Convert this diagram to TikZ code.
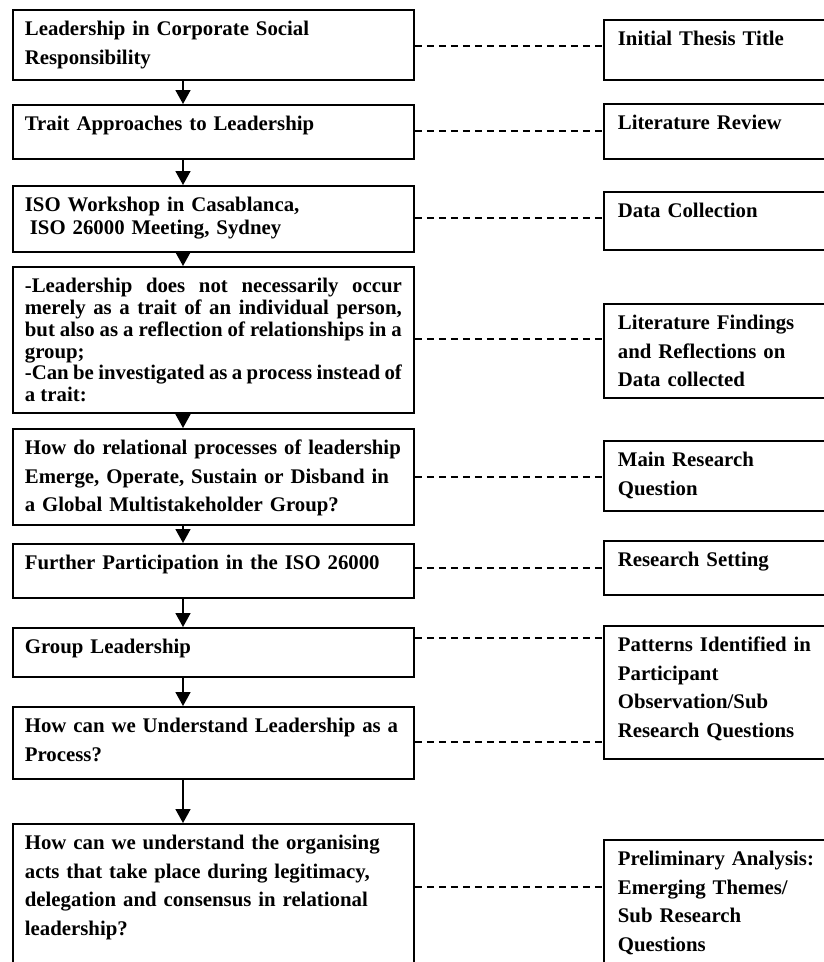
\documentclass[tikz,border=0pt]{standalone}
\usepackage{fontspec}
\setmainfont{Liberation Serif}
\usetikzlibrary{arrows.meta}

\begin{document}
\begin{tikzpicture}[x=1pt, y=-1pt,
                  lbox/.style={draw, line width=1.8pt, anchor=north west, align=left,
                               text width=377pt, inner xsep=12pt, inner ysep=0pt,
                               text height=26pt, font=\fontsize{20.8}{28.5}\selectfont\bfseries},
                  rbox/.style={lbox, text width=205pt, inner xsep=14pt},
                  flow/.style={line width=1.8pt, -{Triangle[width=15pt,length=14pt]}},
                  link/.style={line width=1.6pt, dash pattern=on 7pt off 5pt}]
\useasboundingbox (0,0) rectangle (824,962);
\clip (0,0) rectangle (824,962);
% left column
\node[lbox, text depth=44pt] (l1) at (12,9) {Leadership in Corporate Social\\Responsibility};
\node[lbox, text depth=28pt] (l2) at (12,104) {Trait Approaches to Leadership};
\node[lbox, text depth=40pt, font=\fontsize{20.8}{23}\selectfont\bfseries] (l3) at (12,185)
  {ISO Workshop in Casablanca,\\\hspace*{5pt}ISO 26000 Meeting, Sydney};
\node[lbox, text depth=120pt, align=justify, font=\fontsize{20.8}{21.7}\selectfont\bfseries] (l4) at (12,266)
  {-Leadership does not necessarily occur\linebreak merely as a trait of an individual person,\linebreak
   but also as a reflection of relationships in a\linebreak group;\\-Can be investigated as a process instead of\linebreak a trait:};
\node[lbox, text depth=70pt] (l5) at (12,428)
  {How do relational processes of leadership\\Emerge, Operate, Sustain or Disband in\\a Global Multistakeholder Group?};
\node[lbox, text depth=28pt] (l6) at (12,543) {Further Participation in the ISO 26000};
\node[lbox, text depth=23pt] (l7) at (12,627) {Group Leadership};
\node[lbox, text depth=46pt] (l8) at (12,706) {How can we Understand Leadership as a\\Process?};
\node[lbox, text depth=130pt] (l9) at (12,823)
  {How can we understand the organising\\acts that take place during legitimacy,\\delegation and consensus in relational\\leadership?};
% right column
\node[rbox, text depth=34pt] (r1) at (603,19) {Initial Thesis Title};
\node[rbox, text depth=29pt] (r2) at (603,103) {Literature Review};
\node[rbox, text depth=32pt] (r3) at (603,191) {Data Collection};
\node[rbox, text depth=68pt] (r4) at (603,303) {Literature Findings\\and Reflections on\\Data collected};
\node[rbox, text depth=44pt] (r5) at (603,440) {Main Research\\Question};
\node[rbox, text depth=28pt] (r6) at (603,540) {Research Setting};
\node[rbox, text depth=107pt] (r7) at (603,625)
  {Patterns Identified in\\Participant\\Observation/Sub\\Research Questions};
\node[rbox, text depth=115pt] (r8) at (603,839)
  {Preliminary Analysis:\\Emerging Themes/\\Sub Research\\Questions};
% arrows
\coordinate (ax) at (183,0);
\foreach \i/\j in {1/2, 2/3, 3/4, 4/5, 5/6, 6/7, 7/8, 8/9}
   \draw[flow] (l\i.south -| ax) -- (l\j.north -| ax);
% dashed links
\foreach \i/\k/\y in {1/1/46, 2/2/131, 3/3/218, 4/4/339, 5/5/477, 6/6/568, 7/7/638, 8/7/742, 9/8/887}
  {\coordinate (y\i) at (0,\y);
   \draw[link] (l\i.east |- y\i) -- (r\k.west |- y\i);};
\end{tikzpicture}
\end{document}
